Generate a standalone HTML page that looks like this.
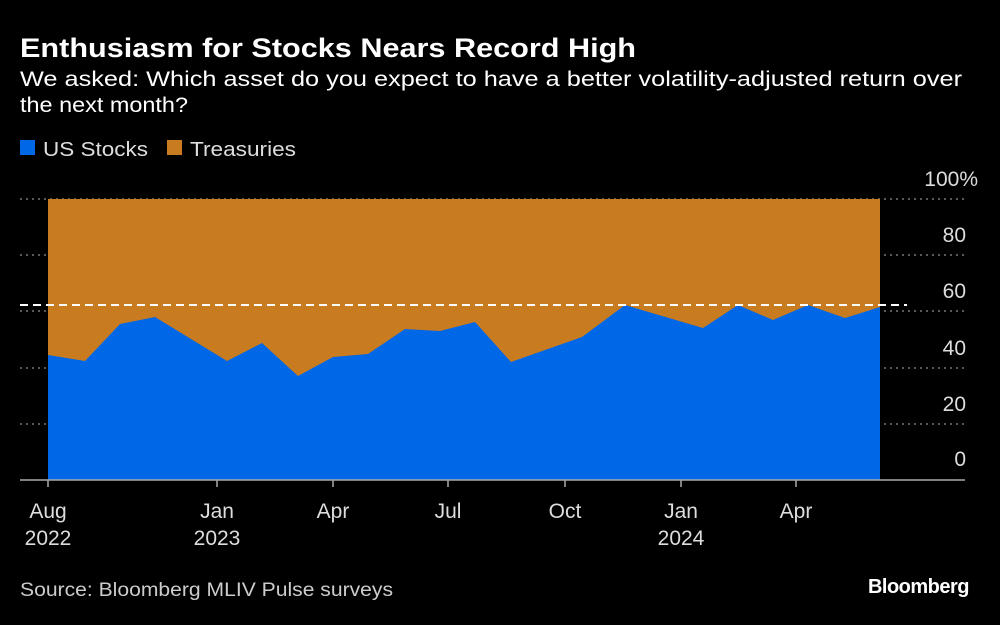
<!DOCTYPE html>
<html><head><meta charset="utf-8"><style>
body{margin:0;background:#000;width:1000px;height:620px;overflow:hidden;font-family:"Liberation Sans",sans-serif;color:#fff}
</style></head><body>
<svg width="1000" height="620" xmlns="http://www.w3.org/2000/svg" font-family="Liberation Sans, sans-serif">
<text x="20" y="57" font-size="27" font-weight="bold" fill="#fff" textLength="616" lengthAdjust="spacingAndGlyphs">Enthusiasm for Stocks Nears Record High</text>
<text x="20" y="86" font-size="21" fill="#fff" textLength="942" lengthAdjust="spacingAndGlyphs">We asked: Which asset do you expect to have a better volatility-adjusted return over</text>
<text x="20" y="112" font-size="21" fill="#fff" textLength="168" lengthAdjust="spacingAndGlyphs">the next month?</text>
<rect x="20" y="140" width="15" height="15" fill="#0068e6"/>
<text x="43" y="156" font-size="20" fill="#ddd" textLength="105" lengthAdjust="spacingAndGlyphs">US Stocks</text>
<rect x="167" y="140" width="15" height="15" fill="#c97b20"/>
<text x="190" y="156" font-size="20" fill="#ddd" textLength="106" lengthAdjust="spacingAndGlyphs">Treasuries</text>
<g stroke="#777" stroke-width="1.5" stroke-dasharray="2,4">
<line x1="20" y1="199" x2="965" y2="199"/><line x1="20" y1="255" x2="965" y2="255"/><line x1="20" y1="311" x2="965" y2="311"/><line x1="20" y1="368" x2="965" y2="368"/><line x1="20" y1="424" x2="965" y2="424"/>
</g>
<rect x="48" y="199" width="832" height="281" fill="#c97b20"/>
<polygon fill="#0068e6" points="48,480 48,355 85,361 120,324 155,317 227,361 262,343 298,376 333,357 368,354 405,329 440,331 475,322 511,362 582,337 625,305 703,328 738,305 773,320 808,305 845,318 880,307 880,480"/>
<line x1="20" y1="305" x2="907" y2="305" stroke="#fff" stroke-width="2" stroke-dasharray="8,5"/>
<line x1="20" y1="480" x2="965" y2="480" stroke="#aaa" stroke-width="1.5"/>
<g font-size="21" fill="#ddd" text-anchor="end">
<text x="978" y="186">100%</text><text x="966" y="242">80</text><text x="966" y="298">60</text><text x="966" y="355">40</text><text x="966" y="411">20</text><text x="966" y="466">0</text>
</g>
<g stroke="#aaa" stroke-width="1.5">
<line x1="48" y1="480" x2="48" y2="487"/><line x1="217" y1="480" x2="217" y2="487"/><line x1="333" y1="480" x2="333" y2="487"/><line x1="448" y1="480" x2="448" y2="487"/><line x1="565" y1="480" x2="565" y2="487"/><line x1="681" y1="480" x2="681" y2="487"/><line x1="796" y1="480" x2="796" y2="487"/>
</g>
<g font-size="21" fill="#ddd" text-anchor="middle">
<text x="48" y="518">Aug</text><text x="48" y="545">2022</text>
<text x="217" y="518">Jan</text><text x="217" y="545">2023</text>
<text x="333" y="518">Apr</text><text x="448" y="518">Jul</text><text x="565" y="518">Oct</text>
<text x="681" y="518">Jan</text><text x="681" y="545">2024</text><text x="796" y="518">Apr</text>
</g>
<text x="20" y="596" font-size="19" fill="#ccc" textLength="373" lengthAdjust="spacingAndGlyphs">Source: Bloomberg MLIV Pulse surveys</text>
<text x="969" y="593" font-size="20" font-weight="bold" fill="#fff" text-anchor="end" letter-spacing="-0.5">Bloomberg</text>
</svg>
</body></html>
